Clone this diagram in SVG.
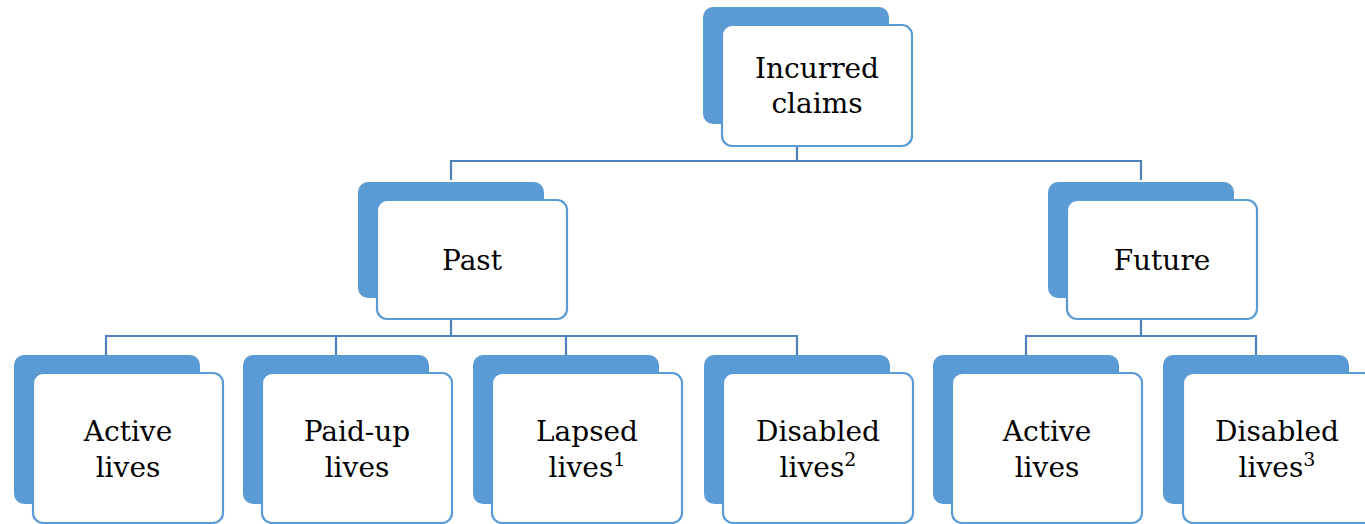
<svg xmlns="http://www.w3.org/2000/svg" width="1365" height="524" viewBox="0 0 1365 524">
<style>
.back{fill:#5B9BD5;}
.front{fill:#fff;stroke:#5B9BD5;stroke-width:2.2;}
.conn{fill:none;stroke:#4F81BD;stroke-width:2.2;}
text{font-family:"DejaVu Serif","Liberation Serif",serif;font-size:28px;fill:#000;text-anchor:middle;}
.sup{font-size:19px;}
</style>
<rect width="1365" height="524" fill="#fff"/>
<g id="connectors">
<path class="conn" d="M797,146 V161 M451,180 V161 H1141 V180"/>
<path class="conn" d="M451,319 V336 M106,355 V336 H797 V355 M336,336 V355 M566,336 V355"/>
<path class="conn" d="M1141,319 V336 M1026,355 V336 H1256 V355"/>
</g>
<g id="incurred">
<rect class="back" x="703" y="7" width="186" height="117" rx="10"/>
<rect class="front" x="722" y="25" width="190" height="121" rx="10"/>
<text x="817" y="78">Incurred</text>
<text x="817" y="113">claims</text>
</g>
<g id="past">
<rect class="back" x="358" y="182" width="186" height="116" rx="10"/>
<rect class="front" x="377" y="200" width="190" height="119" rx="10"/>
<text x="472" y="270">Past</text>
</g>
<g id="future">
<rect class="back" x="1048" y="182" width="186" height="116" rx="10"/>
<rect class="front" x="1067" y="200" width="190" height="119" rx="10"/>
<text x="1162" y="270">Future</text>
</g>
<g id="past-active">
<rect class="back" x="14" y="355" width="186" height="149" rx="10"/>
<rect class="front" x="33" y="373" width="190" height="150" rx="10"/>
<text x="128" y="441">Active</text>
<text x="128" y="477">lives</text>
</g>
<g id="past-paidup">
<rect class="back" x="243" y="355" width="186" height="149" rx="10"/>
<rect class="front" x="262" y="373" width="190" height="150" rx="10"/>
<text x="357" y="441">Paid-up</text>
<text x="357" y="477">lives</text>
</g>
<g id="past-lapsed">
<rect class="back" x="473" y="355" width="186" height="149" rx="10"/>
<rect class="front" x="492" y="373" width="190" height="150" rx="10"/>
<text x="587" y="441">Lapsed</text>
<text x="587" y="477">lives<tspan class="sup" dy="-11">1</tspan></text>
</g>
<g id="past-disabled">
<rect class="back" x="704" y="355" width="186" height="149" rx="10"/>
<rect class="front" x="723" y="373" width="190" height="150" rx="10"/>
<text x="818" y="441">Disabled</text>
<text x="818" y="477">lives<tspan class="sup" dy="-11">2</tspan></text>
</g>
<g id="future-active">
<rect class="back" x="933" y="355" width="186" height="149" rx="10"/>
<rect class="front" x="952" y="373" width="190" height="150" rx="10"/>
<text x="1047" y="441">Active</text>
<text x="1047" y="477">lives</text>
</g>
<g id="future-disabled">
<rect class="back" x="1163" y="355" width="186" height="149" rx="10"/>
<rect class="front" x="1183" y="373" width="190" height="150" rx="10"/>
<text x="1277" y="441">Disabled</text>
<text x="1277" y="477">lives<tspan class="sup" dy="-11">3</tspan></text>
</g>
</svg>
